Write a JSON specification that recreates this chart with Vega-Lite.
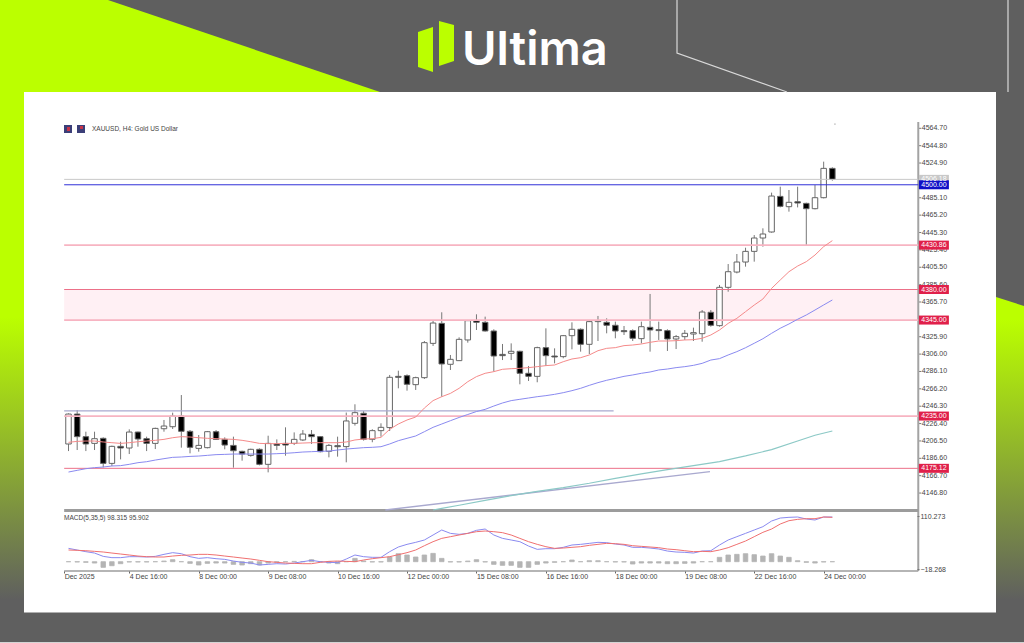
{
  "$schema": "https://vega.github.io/schema/vega-lite/v6.json",
  "width": 1024,
  "height": 643,
  "padding": 0,
  "autosize": {"type": "none"},
  "background": "#5f5f5f",
  "config": {"view": {"stroke": null}},
  "datasets": {
    "candles": [
      {"i":0,"open":4203.0,"high":4238.1,"low":4194.9,"close":4237.3,"fast":4204.9,"slow":4170.9,"macd":32.5,"signal":28.5,"hist":0},
      {"i":1,"open":4237.3,"high":4241.9,"low":4196.1,"close":4211.4,"fast":4206.0,"slow":4172.8,"macd":28.5,"signal":27.7,"hist":-0.8},
      {"i":2,"open":4211.4,"high":4217.1,"low":4194.9,"close":4203.0,"fast":4206.4,"slow":4174.7,"macd":24.4,"signal":26.8,"hist":-1.6},
      {"i":3,"open":4203.7,"high":4217.1,"low":4196.1,"close":4209.1,"fast":4206.4,"slow":4175.9,"macd":21.1,"signal":25.2,"hist":-3.3},
      {"i":4,"open":4209.5,"high":4210.6,"low":4176.2,"close":4180.8,"fast":4205.3,"slow":4176.6,"macd":13,"signal":23.6,"hist":-13.8},
      {"i":5,"open":4180.8,"high":4201.1,"low":4177.8,"close":4200.3,"fast":4204.5,"slow":4177.8,"macd":9.8,"signal":21.1,"hist":-9.8},
      {"i":6,"open":4200.3,"high":4205.6,"low":4185.4,"close":4198.4,"fast":4203.7,"slow":4178.2,"macd":9.8,"signal":18.7,"hist":-4.9},
      {"i":7,"open":4198.4,"high":4219.8,"low":4191.5,"close":4216.7,"fast":4204.5,"slow":4179.7,"macd":12.2,"signal":16.3,"hist":-0.8},
      {"i":8,"open":4216.7,"high":4217.1,"low":4199.9,"close":4208.7,"fast":4205.6,"slow":4181.6,"macd":12.2,"signal":13.8,"hist":-0.8},
      {"i":9,"open":4209.1,"high":4211.4,"low":4194.9,"close":4203.7,"fast":4206.4,"slow":4182.7,"macd":11.4,"signal":12.2,"hist":-0.8},
      {"i":10,"open":4203.7,"high":4221.7,"low":4197.2,"close":4220.9,"fast":4207.2,"slow":4184.6,"macd":13,"signal":11.4,"hist":0},
      {"i":11,"open":4220.5,"high":4230.5,"low":4217.1,"close":4223.6,"fast":4208.3,"slow":4186.2,"macd":17.9,"signal":11.4,"hist":1.6},
      {"i":12,"open":4222.8,"high":4238.9,"low":4220.2,"close":4235.0,"fast":4210.2,"slow":4187.7,"macd":22,"signal":13.8,"hist":4.9},
      {"i":13,"open":4235.0,"high":4259.1,"low":4198.8,"close":4217.5,"fast":4211.4,"slow":4188.1,"macd":19.5,"signal":15.5,"hist":0},
      {"i":14,"open":4217.5,"high":4219.0,"low":4192.3,"close":4199.2,"fast":4211.0,"slow":4188.8,"macd":12.2,"signal":16.3,"hist":-4.1},
      {"i":15,"open":4198.0,"high":4213.3,"low":4194.2,"close":4201.4,"fast":4210.2,"slow":4189.2,"macd":8.1,"signal":17.9,"hist":-8.1},
      {"i":16,"open":4198.8,"high":4217.9,"low":4198.0,"close":4217.1,"fast":4209.5,"slow":4190.0,"macd":9.8,"signal":17.9,"hist":-4.1},
      {"i":17,"open":4217.1,"high":4219.0,"low":4207.6,"close":4208.3,"fast":4209.1,"slow":4190.8,"macd":7.3,"signal":16.3,"hist":-3.3},
      {"i":18,"open":4208.3,"high":4210.6,"low":4196.9,"close":4201.8,"fast":4208.7,"slow":4191.1,"macd":5.7,"signal":13.8,"hist":-3.3},
      {"i":19,"open":4201.4,"high":4211.4,"low":4175.9,"close":4195.3,"fast":4208.3,"slow":4191.5,"macd":1.6,"signal":11.4,"hist":-6.5},
      {"i":20,"open":4194.6,"high":4195.3,"low":4183.9,"close":4191.5,"fast":4207.2,"slow":4191.5,"macd":-1.6,"signal":8.9,"hist":-8.1},
      {"i":21,"open":4190.0,"high":4197.6,"low":4188.5,"close":4196.9,"fast":4205.6,"slow":4191.5,"macd":-3.3,"signal":6.5,"hist":-4.9},
      {"i":22,"open":4196.9,"high":4198.0,"low":4178.5,"close":4179.7,"fast":4203.7,"slow":4191.5,"macd":-8.1,"signal":3.3,"hist":-8.1},
      {"i":23,"open":4179.7,"high":4212.5,"low":4170.5,"close":4203.7,"fast":4203.4,"slow":4191.5,"macd":-6.5,"signal":0,"hist":-3.3},
      {"i":24,"open":4203.0,"high":4208.3,"low":4196.1,"close":4201.4,"fast":4203.4,"slow":4191.9,"macd":-4.9,"signal":-1.6,"hist":-1.6},
      {"i":25,"open":4203.7,"high":4222.1,"low":4189.6,"close":4201.8,"fast":4203.7,"slow":4192.3,"macd":-5.7,"signal":-3.3,"hist":0},
      {"i":26,"open":4203.7,"high":4216.3,"low":4201.8,"close":4208.3,"fast":4203.7,"slow":4193.0,"macd":-3.3,"signal":-4.1,"hist":0.8},
      {"i":27,"open":4207.6,"high":4219.0,"low":4206.4,"close":4214.4,"fast":4204.1,"slow":4193.8,"macd":0,"signal":-4.9,"hist":0},
      {"i":28,"open":4214.0,"high":4219.0,"low":4203.0,"close":4211.4,"fast":4204.5,"slow":4194.2,"macd":3.3,"signal":-4.9,"hist":4.9},
      {"i":29,"open":4211.4,"high":4212.1,"low":4193.4,"close":4194.2,"fast":4204.5,"slow":4194.6,"macd":0,"signal":-1.6,"hist":0},
      {"i":30,"open":4194.6,"high":4203.0,"low":4187.7,"close":4201.4,"fast":4204.5,"slow":4194.9,"macd":-1.6,"signal":0.8,"hist":-3.3},
      {"i":31,"open":4201.1,"high":4211.4,"low":4188.5,"close":4199.9,"fast":4204.5,"slow":4196.1,"macd":-2.4,"signal":1.6,"hist":-4.9},
      {"i":32,"open":4200.0,"high":4239.0,"low":4182.0,"close":4229.4,"fast":4205.3,"slow":4197.2,"macd":6.5,"signal":0.8,"hist":0},
      {"i":33,"open":4226.7,"high":4248.5,"low":4224.1,"close":4238.9,"fast":4207.6,"slow":4198.0,"macd":16.3,"signal":0,"hist":8.1},
      {"i":34,"open":4238.2,"high":4240.8,"low":4206.9,"close":4208.4,"fast":4208.7,"slow":4198.8,"macd":12.2,"signal":4.1,"hist":1.6},
      {"i":35,"open":4208.4,"high":4219.9,"low":4205.0,"close":4218.3,"fast":4209.1,"slow":4199.2,"macd":10.6,"signal":7.3,"hist":-0.8},
      {"i":36,"open":4218.3,"high":4226.7,"low":4211.4,"close":4222.1,"fast":4210.6,"slow":4199.9,"macd":10.6,"signal":9.8,"hist":-0.8},
      {"i":37,"open":4221.8,"high":4282.1,"low":4217.9,"close":4279.4,"fast":4219.8,"slow":4203.0,"macd":24.4,"signal":12.2,"hist":11.4},
      {"i":38,"open":4280.5,"high":4287.0,"low":4266.8,"close":4279.4,"fast":4225.9,"slow":4206.8,"macd":35.8,"signal":17.1,"hist":19.5},
      {"i":39,"open":4281.3,"high":4282.8,"low":4264.1,"close":4271.4,"fast":4230.5,"slow":4209.5,"macd":42.3,"signal":22,"hist":16.3},
      {"i":40,"open":4271.0,"high":4280.1,"low":4264.9,"close":4279.0,"fast":4233.9,"slow":4212.2,"macd":47.2,"signal":28.5,"hist":11.4},
      {"i":41,"open":4279.0,"high":4321.0,"low":4277.5,"close":4319.1,"fast":4244.2,"slow":4217.1,"macd":52.9,"signal":39,"hist":16.3},
      {"i":42,"open":4318.3,"high":4345.1,"low":4315.3,"close":4341.6,"fast":4252.7,"slow":4222.1,"macd":65.1,"signal":48.8,"hist":20.3},
      {"i":43,"open":4341.2,"high":4353.9,"low":4257.2,"close":4294.7,"fast":4257.2,"slow":4225.9,"macd":77.3,"signal":56.9,"hist":8.1},
      {"i":44,"open":4294.3,"high":4305.0,"low":4287.8,"close":4300.0,"fast":4261.0,"slow":4229.7,"macd":69.1,"signal":61,"hist":-0.8},
      {"i":45,"open":4298.5,"high":4325.2,"low":4298.1,"close":4322.9,"fast":4266.8,"slow":4233.4,"macd":66.7,"signal":65.1,"hist":-0.8},
      {"i":46,"open":4322.2,"high":4345.1,"low":4319.1,"close":4344.3,"fast":4274.4,"slow":4236.8,"macd":69.1,"signal":69.1,"hist":1.6},
      {"i":47,"open":4344.3,"high":4351.6,"low":4333.6,"close":4342.4,"fast":4280.2,"slow":4240.2,"macd":76.5,"signal":73.2,"hist":4.9},
      {"i":48,"open":4342.4,"high":4348.9,"low":4331.7,"close":4332.5,"fast":4284.0,"slow":4242.7,"macd":79.7,"signal":74.8,"hist":-0.8},
      {"i":49,"open":4332.5,"high":4334.4,"low":4285.9,"close":4303.8,"fast":4285.9,"slow":4246.5,"macd":65.1,"signal":73.2,"hist":-6.5},
      {"i":50,"open":4305.7,"high":4317.6,"low":4299.2,"close":4304.2,"fast":4288.6,"slow":4250.0,"macd":56.9,"signal":70.8,"hist":-8.9},
      {"i":51,"open":4306.9,"high":4318.3,"low":4299.2,"close":4309.2,"fast":4289.3,"slow":4252.7,"macd":52.9,"signal":65.1,"hist":-8.9},
      {"i":52,"open":4309.2,"high":4309.9,"low":4271.4,"close":4284.0,"fast":4289.7,"slow":4254.2,"macd":48.8,"signal":56.9,"hist":-13.8},
      {"i":53,"open":4284.0,"high":4292.4,"low":4275.2,"close":4280.5,"fast":4290.5,"slow":4255.7,"macd":38.2,"signal":48.8,"hist":-13.8},
      {"i":54,"open":4280.5,"high":4314.5,"low":4273.7,"close":4313.4,"fast":4291.6,"slow":4257.2,"macd":30.1,"signal":42.3,"hist":-6.5},
      {"i":55,"open":4313.4,"high":4335.5,"low":4292.4,"close":4304.2,"fast":4292.8,"slow":4258.4,"macd":31.7,"signal":36.6,"hist":-3.3},
      {"i":56,"open":4303.8,"high":4312.6,"low":4295.4,"close":4302.7,"fast":4293.5,"slow":4259.9,"macd":31.7,"signal":32.5,"hist":-1.6},
      {"i":57,"open":4303.1,"high":4327.9,"low":4301.2,"close":4327.1,"fast":4297.3,"slow":4261.8,"macd":35,"signal":33.3,"hist":0},
      {"i":58,"open":4327.1,"high":4342.4,"low":4311.5,"close":4334.4,"fast":4300.4,"slow":4264.1,"macd":40.7,"signal":35,"hist":4.1},
      {"i":59,"open":4334.4,"high":4335.5,"low":4308.8,"close":4317.2,"fast":4301.9,"slow":4266.8,"macd":42.3,"signal":36.6,"hist":0},
      {"i":60,"open":4317.2,"high":4344.3,"low":4306.1,"close":4343.2,"fast":4305.0,"slow":4270.2,"macd":44.7,"signal":39.9,"hist":2.4},
      {"i":61,"open":4343.2,"high":4349.7,"low":4321.0,"close":4344.3,"fast":4309.9,"slow":4273.3,"macd":47.2,"signal":42.3,"hist":2.4},
      {"i":62,"open":4342.4,"high":4347.0,"low":4329.8,"close":4339.0,"fast":4312.6,"slow":4276.0,"macd":46.4,"signal":44.7,"hist":0},
      {"i":63,"open":4339.0,"high":4343.2,"low":4324.1,"close":4332.5,"fast":4313.4,"slow":4278.2,"macd":43.1,"signal":43.9,"hist":-0.8},
      {"i":64,"open":4332.9,"high":4338.2,"low":4327.9,"close":4331.7,"fast":4315.7,"slow":4280.5,"macd":40.7,"signal":42.3,"hist":-0.8},
      {"i":65,"open":4332.9,"high":4334.4,"low":4321.0,"close":4324.1,"fast":4316.4,"slow":4282.1,"macd":35,"signal":39,"hist":-5.7},
      {"i":66,"open":4323.7,"high":4343.2,"low":4318.3,"close":4337.4,"fast":4317.6,"slow":4284.0,"macd":35,"signal":37.4,"hist":-3.3},
      {"i":67,"open":4336.7,"high":4374.9,"low":4308.8,"close":4333.6,"fast":4319.5,"slow":4285.5,"macd":33.3,"signal":35.8,"hist":-3.3},
      {"i":68,"open":4334.0,"high":4343.2,"low":4322.2,"close":4332.9,"fast":4321.0,"slow":4287.8,"macd":30.9,"signal":34.2,"hist":-3.3},
      {"i":69,"open":4332.9,"high":4334.4,"low":4309.6,"close":4323.3,"fast":4321.0,"slow":4288.9,"macd":26,"signal":30.9,"hist":-4.9},
      {"i":70,"open":4323.3,"high":4327.9,"low":4311.8,"close":4326.0,"fast":4321.4,"slow":4290.5,"macd":23.6,"signal":29.3,"hist":-4.9},
      {"i":71,"open":4326.0,"high":4333.6,"low":4322.2,"close":4329.8,"fast":4322.2,"slow":4291.6,"macd":22.8,"signal":26.8,"hist":-4.1},
      {"i":72,"open":4329.0,"high":4336.3,"low":4321.0,"close":4330.6,"fast":4322.5,"slow":4293.1,"macd":21.1,"signal":24.4,"hist":-3.3},
      {"i":73,"open":4329.4,"high":4356.5,"low":4320.2,"close":4354.2,"fast":4324.1,"slow":4295.4,"macd":26,"signal":25.2,"hist":0},
      {"i":74,"open":4353.9,"high":4356.5,"low":4337.4,"close":4339.0,"fast":4327.9,"slow":4299.2,"macd":26.8,"signal":24.4,"hist":0},
      {"i":75,"open":4338.6,"high":4385.2,"low":4337.4,"close":4382.5,"fast":4333.6,"slow":4300.8,"macd":40.7,"signal":28.5,"hist":10.6},
      {"i":76,"open":4382.5,"high":4409.2,"low":4377.5,"close":4400.4,"fast":4341.2,"slow":4305.0,"macd":52.9,"signal":34.2,"hist":16.3},
      {"i":77,"open":4400.0,"high":4420.7,"low":4398.5,"close":4411.5,"fast":4347.0,"slow":4308.8,"macd":61,"signal":42.3,"hist":17.9},
      {"i":78,"open":4411.5,"high":4427.9,"low":4406.2,"close":4423.7,"fast":4354.6,"slow":4313.3,"macd":69.1,"signal":50.4,"hist":19.5},
      {"i":79,"open":4423.7,"high":4442.4,"low":4411.9,"close":4439.0,"fast":4362.2,"slow":4318.4,"macd":77.3,"signal":61,"hist":17.1},
      {"i":80,"open":4439.0,"high":4450.1,"low":4429.1,"close":4443.6,"fast":4369.1,"slow":4323.6,"macd":85.4,"signal":71.6,"hist":13.8},
      {"i":81,"open":4445.9,"high":4491.0,"low":4445.1,"close":4487.1,"fast":4381.3,"slow":4329.8,"macd":99.2,"signal":79.7,"hist":19.5},
      {"i":82,"open":4486.7,"high":4497.8,"low":4474.1,"close":4475.3,"fast":4390.9,"slow":4335.6,"macd":106.5,"signal":91.9,"hist":13.8},
      {"i":83,"open":4474.9,"high":4494.0,"low":4469.2,"close":4479.9,"fast":4400.4,"slow":4340.5,"macd":108.2,"signal":100,"hist":10.6},
      {"i":84,"open":4480.6,"high":4497.8,"low":4474.1,"close":4479.1,"fast":4406.9,"slow":4345.9,"macd":109,"signal":103.3,"hist":2.4},
      {"i":85,"open":4478.7,"high":4479.5,"low":4430.6,"close":4472.6,"fast":4411.9,"slow":4350.8,"macd":104.1,"signal":104.9,"hist":-1.6},
      {"i":86,"open":4472.6,"high":4499.7,"low":4471.8,"close":4485.2,"fast":4419.5,"slow":4356.5,"macd":101.7,"signal":104.9,"hist":-3.3},
      {"i":87,"open":4485.2,"high":4526.5,"low":4484.4,"close":4518.8,"fast":4429.1,"slow":4362.3,"macd":109,"signal":109,"hist":-0.8},
      {"i":88,"open":4518.8,"high":4520.0,"low":4504.7,"close":4506.2,"fast":4436.0,"slow":4368.0,"macd":109,"signal":108.2,"hist":0}
    ],
    "longMa": [
      {"i":42,"price":4127.4},{"i":43,"price":4129.3},{"i":45,"price":4132.8},{"i":48,"price":4138.5},{"i":51,"price":4143.8},
      {"i":54,"price":4148.8},{"i":57,"price":4153.0},{"i":60,"price":4158.0},{"i":63,"price":4163.7},{"i":66,"price":4168.7},
      {"i":69,"price":4173.6},{"i":72,"price":4178.2},{"i":75,"price":4182.8},{"i":78,"price":4189.3},{"i":81,"price":4196.5},
      {"i":84,"price":4206.5},{"i":86,"price":4213.0},{"i":88,"price":4217.9}
    ],
    "trendLines": [
      {"line":"rising","i":36.5,"price":4127.4},{"line":"rising","i":73.9,"price":4171.3},
      {"line":"flat","i":-0.5,"price":4241.0},{"line":"flat","i":62.8,"price":4241.0}
    ],
    "levels": [
      {"level":4506.2,"label":"4506.18","kind":"last"},
      {"level":4500,"label":"4500.00","kind":"pivot"},
      {"level":4430.86,"label":"4430.86","kind":"soft"},
      {"level":4380,"label":"4380.00","kind":"zone"},
      {"level":4345,"label":"4345.00","kind":"soft"},
      {"level":4235,"label":"4235.00","kind":"soft"},
      {"level":4175.12,"label":"4175.12","kind":"zone"}
    ],
    "zones": [{"from":4345,"to":4380}],
    "priceTicks": [
      {"price":4564.7},{"price":4544.8},{"price":4524.9},{"price":4485.1},{"price":4465.2},
      {"price":4445.3},{"price":4425.4},{"price":4405.5},{"price":4385.6},{"price":4365.7},
      {"price":4325.9},{"price":4306.0},{"price":4286.1},{"price":4266.2},{"price":4246.3},{"price":4226.4},
      {"price":4206.5},{"price":4186.6},{"price":4166.7},{"price":4146.8}
    ],
    "frame": [
      {"part":"spine","from":4057.5,"to":4571.9}
    ],
    "dividers": [
      {"price":4126.8,"weight":"thick"},
      {"price":4057.5,"weight":"thin"}
    ],
    "marker": [{"i":88.3,"price":4569.6}],
    "wedge": [
      {"fx":0,"fy":0,"fy2":92},{"fx":108,"fy":0,"fy2":92},{"fx":380,"fy":92,"fy2":92}
    ],
    "rightStrip": [
      {"fx":996,"fy":297,"fy2":643},{"fx":1024,"fy":306,"fy2":643}
    ],
    "outlines": [
      {"s":"a","n":1,"fx":677,"fy":0},{"s":"a","n":2,"fx":677,"fy":53},{"s":"a","n":3,"fx":787,"fy":92},
      {"s":"b","n":1,"fx":1008,"fy":0},{"s":"b","n":2,"fx":1008,"fy":92}
    ],
    "logo": [
      {"s":"a","fx":418,"fy":32,"fy2":67},{"s":"a","fx":433,"fy":27,"fy2":72},
      {"s":"b","fx":439,"fy":21,"fy2":66},{"s":"b","fx":454,"fy":25,"fy2":61}
    ]
  },
  "resolve": {"scale": {"x": "independent", "y": "independent"}},
  "layer": [
    {
      "encoding": {
        "x": {"field": "fx", "type": "quantitative", "scale": {"domain": [0, 1024], "nice": false, "zero": false, "padding": 0}, "axis": null},
        "y": {"field": "fy", "type": "quantitative", "scale": {"domain": [643, 0], "nice": false, "zero": false, "padding": 0}, "axis": null}
      },
      "layer": [
        {
          "data": {"name": "wedge"},
          "mark": {"type": "area", "color": "#bbff00"},
          "encoding": {"y2": {"field": "fy2"}}
        },
        {
          "data": {"values": [{"fx": 0, "fx2": 24, "fy": 92, "fy2": 643}]},
          "mark": {"type": "rect", "fill": {"gradient": "linear", "x1": 0, "y1": 0, "x2": 0, "y2": 1, "stops": [{"offset": 0, "color": "#bbff00"}, {"offset": 0.408, "color": "#bbff00"}, {"offset": 0.922, "color": "#5f5f5f"}, {"offset": 1, "color": "#5f5f5f"}]}},
          "encoding": {"x2": {"field": "fx2"}, "y2": {"field": "fy2"}}
        },
        {
          "data": {"name": "rightStrip"},
          "mark": {"type": "area", "fill": {"gradient": "linear", "x1": 0, "y1": 0, "x2": 0, "y2": 1, "stops": [{"offset": 0, "color": "#bbff00"}, {"offset": 0.066, "color": "#bbff00"}, {"offset": 0.876, "color": "#5f5f5f"}, {"offset": 1, "color": "#5f5f5f"}]}},
          "encoding": {"y2": {"field": "fy2"}}
        },
        {
          "data": {"values": [{"fx": 24, "fx2": 996, "fy": 92, "fy2": 612.5}]},
          "mark": {"type": "rect", "fill": "#ffffff"},
          "encoding": {"x2": {"field": "fx2"}, "y2": {"field": "fy2"}}
        },
        {
          "data": {"name": "outlines"},
          "mark": {"type": "line", "stroke": "#d9d9d9", "strokeWidth": 1.2},
          "encoding": {"detail": {"field": "s"}, "order": {"field": "n", "type": "quantitative"}}
        },
        {
          "data": {"name": "logo"},
          "mark": {"type": "area", "color": "#bbff00"},
          "encoding": {"y2": {"field": "fy2"}, "detail": {"field": "s"}}
        },
        {
          "data": {"values": [{"fx": 462, "fy": 65, "label": "Ultima"}]},
          "mark": {"type": "text", "align": "left", "baseline": "alphabetic", "font": "Inter", "fontSize": 47, "fontWeight": 600, "color": "#ffffff"},
          "encoding": {"text": {"field": "label"}}
        },
        {
          "data": {"values": [{"fx": 64, "fx2": 72, "fy": 125, "fy2": 133}, {"fx": 77, "fx2": 85, "fy": 125, "fy2": 133}]},
          "mark": {"type": "rect", "fill": "#3b3f78"},
          "encoding": {"x2": {"field": "fx2"}, "y2": {"field": "fy2"}}
        },
        {
          "data": {"values": [{"fx": 67, "fx2": 70, "fy": 127, "fy2": 131}, {"fx": 80, "fx2": 83, "fy": 126, "fy2": 129}]},
          "mark": {"type": "rect", "fill": "#c8354a"},
          "encoding": {"x2": {"field": "fx2"}, "y2": {"field": "fy2"}}
        },
        {
          "data": {"values": [{"fx": 92, "fy": 129, "label": "XAUUSD, H4:  Gold US Dollar"}, {"fx": 64, "fy": 517.5, "label": "MACD(5,35,5) 98.315 95.902"}]},
          "mark": {"type": "text", "align": "left", "baseline": "middle", "font": "Liberation Sans", "fontSize": 6.5, "color": "#444444"},
          "encoding": {"text": {"field": "label"}}
        },
        {
          "data": {"values": [{"fx": 0, "fx2": 1024, "fy": 642.5}]},
          "mark": {"type": "rule", "stroke": "#d4d4d4", "strokeWidth": 1},
          "encoding": {"x2": {"field": "fx2"}}
        }
      ]
    },
    {
      "encoding": {
        "x": {
          "type": "quantitative",
          "scale": {"domain": [-7.892, 110.08], "nice": false, "zero": false, "padding": 0},
          "axis": null
        },
        "y": {
          "type": "quantitative",
          "scale": {"domain": [3975.0, 4711.7], "nice": false, "zero": false, "padding": 0},
          "axis": null
        }
      },
      "layer": [
        {
          "data": {"name": "zones"},
          "mark": {"type": "rect", "fill": "#fff0f4"},
          "encoding": {
            "x": {"datum": -0.5},
            "x2": {"datum": 97.9},
            "y": {"field": "from"},
            "y2": {"field": "to"}
          }
        },
        {
          "data": {"name": "candles"},
          "mark": {"type": "rule", "stroke": "#777777", "strokeWidth": 1},
          "encoding": {
            "x": {"field": "i"},
            "y": {"field": "low"},
            "y2": {"field": "high"}
          }
        },
        {
          "data": {"name": "candles"},
          "mark": {"type": "bar", "width": 5.5, "stroke": "#666666", "strokeWidth": 1},
          "encoding": {
            "x": {"field": "i"},
            "y": {"field": "open"},
            "y2": {"field": "close"},
            "fill": {"condition": {"test": "datum.close >= datum.open", "value": "#ffffff"}, "value": "#000000"}
          }
        },
        {
          "data": {"name": "frame"},
          "mark": {"type": "rule", "stroke": "#a3a3a3", "strokeWidth": 2},
          "encoding": {
            "x": {"datum": 97.9},
            "y": {"field": "from"},
            "y2": {"field": "to"}
          }
        },
        {
          "data": {"name": "dividers"},
          "mark": {"type": "rule"},
          "encoding": {
            "x": {"datum": -0.5},
            "x2": {"datum": 97.9},
            "y": {"field": "price"},
            "stroke": {"value": "#9c9c9c"},
            "strokeWidth": {"condition": {"test": "datum.weight === 'thick'", "value": 3}, "value": 1.5}
          }
        },
        {
          "data": {"name": "levels"},
          "mark": {"type": "rule"},
          "encoding": {
            "x": {"datum": -0.5},
            "x2": {"datum": 97.9},
            "y": {"field": "level"},
            "strokeWidth": {"condition": {"test": "datum.kind === 'soft'", "value": 1.8}, "value": 1},
            "stroke": {"field": "kind", "type": "nominal", "legend": null, "scale": {"domain": ["last", "pivot", "zone", "soft"], "range": ["#c8c8c8", "#3030d8", "#ec7088", "#f7b4c2"]}}
          }
        },
        {
          "data": {"name": "trendLines"},
          "mark": {"type": "line", "stroke": "#a9a9cf", "strokeWidth": 1.4},
          "encoding": {
            "x": {"field": "i"},
            "y": {"field": "price"},
            "detail": {"field": "line"}
          }
        },
        {
          "data": {"name": "longMa"},
          "mark": {"type": "line", "stroke": "#8cc9c6", "strokeWidth": 1.2},
          "encoding": {"x": {"field": "i"}, "y": {"field": "price"}}
        },
        {
          "data": {"name": "candles"},
          "mark": {"type": "line", "stroke": "#f58a8a", "strokeWidth": 1},
          "encoding": {"x": {"field": "i"}, "y": {"field": "fast"}}
        },
        {
          "data": {"name": "candles"},
          "mark": {"type": "line", "stroke": "#8a8af0", "strokeWidth": 1},
          "encoding": {"x": {"field": "i"}, "y": {"field": "slow"}}
        },
        {
          "data": {"name": "marker"},
          "mark": {"type": "point", "filled": true, "size": 3, "color": "#aaaaaa"},
          "encoding": {"x": {"field": "i"}, "y": {"field": "price"}}
        },
        {
          "data": {"name": "priceTicks"},
          "mark": {"type": "rule", "stroke": "#777777", "strokeWidth": 1},
          "encoding": {
            "x": {"datum": 98.0},
            "x2": {"datum": 98.25},
            "y": {"field": "price"}
          }
        },
        {
          "data": {"name": "priceTicks"},
          "mark": {"type": "text", "align": "left", "baseline": "middle", "font": "Liberation Sans", "fontSize": 7, "color": "#444444"},
          "encoding": {
            "x": {"datum": 98.3},
            "y": {"field": "price"},
            "text": {"field": "price", "format": ".2f"}
          }
        },
        {
          "data": {"name": "levels"},
          "mark": {"type": "rect", "width": 30, "height": 9},
          "encoding": {
            "x": {"datum": 99.7},
            "y": {"field": "level"},
            "fill": {"field": "kind", "type": "nominal", "legend": null, "scale": {"domain": ["last", "pivot", "zone", "soft"], "range": ["#c8c8c8", "#1010c8", "#e0204a", "#e0204a"]}}
          }
        },
        {
          "data": {"name": "levels"},
          "mark": {"type": "text", "align": "center", "baseline": "middle", "font": "Liberation Sans", "fontSize": 7, "color": "#ffffff"},
          "encoding": {
            "x": {"datum": 99.7},
            "y": {"field": "level"},
            "text": {"field": "label"}
          }
        }
      ]
    },
    {
      "data": {"name": "candles"},
      "encoding": {
        "x": {
          "field": "i",
          "type": "quantitative",
          "scale": {"domain": [-7.892, 110.08], "nice": false, "zero": false, "padding": 0},
          "axis": {
            "orient": "bottom",
            "offset": -72,
            "values": [-0.5, 7, 15, 23, 31, 39, 47, 55, 63, 71, 79, 87],
            "labelExpr": "{'-0.5':'Dec 2025','7':'4 Dec 16:00','15':'8 Dec 00:00','23':'9 Dec 08:00','31':'10 Dec 16:00','39':'12 Dec 00:00','47':'15 Dec 08:00','55':'16 Dec 16:00','63':'18 Dec 00:00','71':'19 Dec 08:00','79':'22 Dec 16:00','87':'24 Dec 00:00'}[datum.value]",
            "title": null,
            "grid": false,
            "domain": false,
            "ticks": true,
            "tickSize": 2,
            "tickColor": "#666666",
            "labelAlign": "left",
            "labelBaseline": "middle",
            "labelPadding": 3,
            "labelFlush": false,
            "labelOverlap": false,
            "labelFont": "Liberation Sans",
            "labelFontSize": 7,
            "labelColor": "#444444",
            "zindex": 1
          }
        },
        "y": {
          "type": "quantitative",
          "scale": {"domain": [-198.4, 1370.5], "nice": false, "zero": false, "padding": 0},
          "axis": {
            "orient": "right",
            "offset": -107,
            "values": [110.273, -18.268],
            "format": ".3f",
            "title": null,
            "grid": false,
            "domain": false,
            "tickSize": 2,
            "tickColor": "#777777",
            "labelFont": "Liberation Sans",
            "labelFontSize": 7,
            "labelColor": "#444444",
            "labelPadding": 1,
            "zindex": 1
          }
        }
      },
      "layer": [
        {
          "mark": {"type": "bar", "width": 4.5, "fill": "#b4b4b4", "stroke": "#b4b4b4", "strokeWidth": 0.8},
          "encoding": {"y": {"field": "hist"}}
        },
        {
          "mark": {"type": "line", "stroke": "#8a8af0", "strokeWidth": 1},
          "encoding": {"y": {"field": "macd"}}
        },
        {
          "mark": {"type": "line", "stroke": "#f07070", "strokeWidth": 1},
          "encoding": {"y": {"field": "signal"}}
        }
      ]
    }
  ]
}
